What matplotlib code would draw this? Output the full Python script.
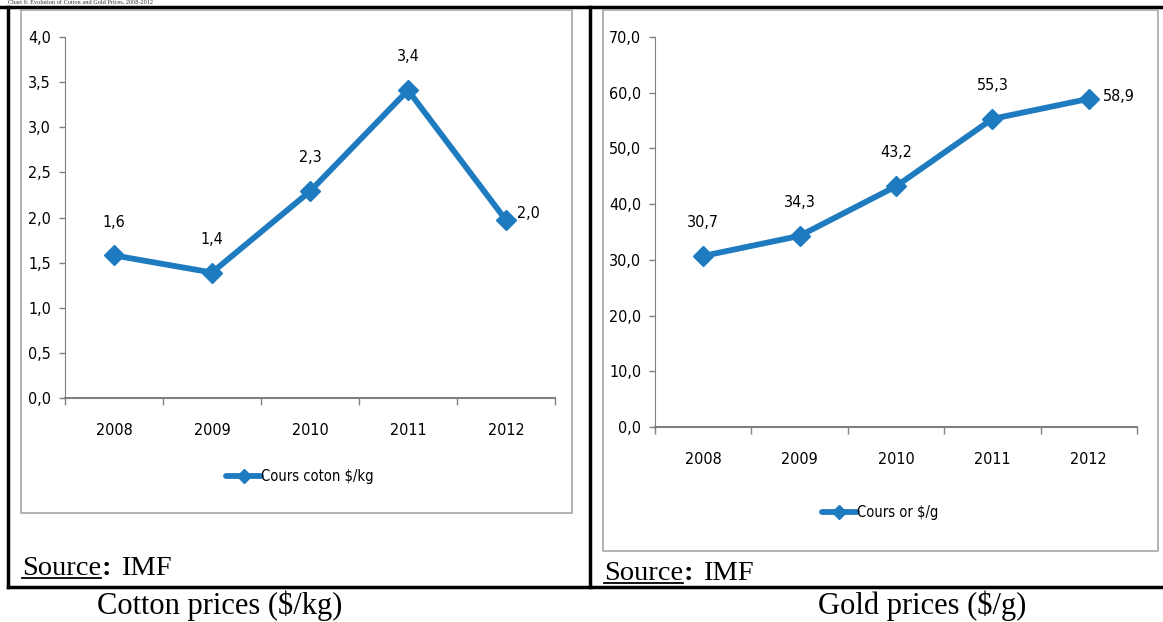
import numpy as np
import matplotlib.pyplot as plt
from matplotlib.lines import Line2D

years = ['2008', '2009', '2010', '2011', '2012']
cotton = [1.58, 1.39, 2.29, 3.41, 1.97]
gold = [30.7, 34.3, 43.2, 55.3, 58.9]
cotton_ticks = [0.0, 0.5, 1.0, 1.5, 2.0, 2.5, 3.0, 3.5, 4.0]
gold_ticks = [0, 10, 20, 30, 40, 50, 60, 70]

W, H = 1163, 622
blue = '#1F7BC0'
grey = '#A6A6A6'
narrow = ['DejaVu Sans']
serif = ['Liberation Serif', 'DejaVu Serif']

fig = plt.figure(figsize=(W/100, H/100), dpi=100)

def fx(p):
  return p/W

def fy(p):
  return 1-p/H

def box(x0, y0, x1, y1, **kw):
  # rectangle in pixel coords (top-left origin)
  xs = [fx(x0), fx(x1), fx(x1), fx(x0), fx(x0)]
  ys = [fy(y0), fy(y0), fy(y1), fy(y1), fy(y0)]
  fig.add_artist(Line2D(xs, ys, transform=fig.transFigure, **kw))

def hline(x0, x1, y, **kw):
  fig.add_artist(Line2D([fx(x0), fx(x1)], [fy(y), fy(y)], transform=fig.transFigure, **kw))

def vline(x, y0, y1, **kw):
  fig.add_artist(Line2D([fx(x), fx(x)], [fy(y0), fy(y1)], transform=fig.transFigure, **kw))

# table frame
hline(0, W, 7, color='black', lw=2.5)
hline(8, W, 587, color='black', lw=2.5)
vline(8, 7, 587, color='black', lw=2.5)
vline(590, 7, 587, color='black', lw=2.5)

# chart boxes
box(21, 10, 572, 513, color=grey, lw=1.2)
box(603, 10, 1158, 551, color=grey, lw=1.2)

# heading (mostly hidden above the table in the original)
fig.text(fx(8), fy(0), 'Chart 6: Evolution of Cotton and Gold Prices, 2008-2012',
         fontsize=4.5, family=serif, va='top', ha='left', color='#333333')

def make_panel(px0, py0, px1, py1, vals, ticks, ymax, fmt, offs, legend_label, leg_xy):
  ax = fig.add_axes([fx(px0), fy(py1), fx(px1)-fx(px0), fy(py0)-fy(py1)])
  x = np.arange(len(vals))
  ax.plot(x, vals, color=blue, lw=4.2, marker='D', ms=10, mec=blue, mfc=blue,
          solid_capstyle='round', label=legend_label)
  ax.set_xlim(-0.5, len(vals)-0.5)
  ax.set_ylim(0, ymax)
  ax.set_yticks(ticks)
  ax.yaxis.set_major_formatter(plt.FuncFormatter(lambda v, p: (fmt % v).replace('.', ',')))
  ax.set_xticks(np.arange(len(vals)+1)-0.5)
  ax.set_xticklabels([])
  ax.set_xticks(x, minor=True)
  ax.set_xticklabels(years, minor=True)
  ax.tick_params(axis='x', which='minor', length=0, pad=18)
  ax.tick_params(axis='x', which='major', length=5, color='#808080', width=1)
  ax.tick_params(axis='y', length=4, color='#808080', width=1, pad=6)
  for s in ['top', 'right']:
    ax.spines[s].set_visible(False)
  ax.spines['left'].set_color('#808080')
  ax.spines['bottom'].set_color('#808080')
  ax.spines['bottom'].set_linewidth(1.5)
  for lab in ax.get_xticklabels(minor=True) + ax.get_yticklabels():
    lab.set_fontfamily(narrow)
    lab.set_fontstretch('condensed')
    lab.set_fontsize(11.5)
  for i, v in enumerate(vals):
    dx, dy, ha = offs[i]
    ax.annotate(('%.1f' % v).replace('.', ','), (i, v), xytext=(dx, dy),
                textcoords='offset points', ha=ha, va='center',
                fontsize=11.5, family=narrow, fontstretch='condensed')
  leg = ax.legend(loc='center', bbox_to_anchor=(fx(leg_xy[0]), fy(leg_xy[1])),
                  bbox_transform=fig.transFigure, frameon=False,
                  handlelength=2.4, handletextpad=0.0,
                  prop={'family': narrow, 'size': 10.5, 'stretch': 'condensed'})
  leg.get_lines()[0].set_markersize(7)
  return ax

up = (0, 24, 'center')
make_panel(65, 37, 555, 398, cotton, cotton_ticks, 4.0, '%.1f',
           [up, up, up, up, (8, 5, 'left')], 'Cours coton \\$/kg', (300, 477))
make_panel(655, 37, 1137, 427, gold, gold_ticks, 70, '%.1f',
           [up, up, up, up, (10, 2, 'left')], 'Cours or \\$/g', (880, 513))

# source notes: underlined "Source", bold colon, then IMF
renderer = fig.canvas.get_renderer()
def source_note(x, y):
  t = fig.text(fx(x), fy(y), 'Source', fontsize=20.5, family=serif, va='baseline', ha='left')
  bb = t.get_window_extent(renderer)
  x1 = bb.x1
  hline(x, x1, y + 3, color='black', lw=1.3)
  c = fig.text(x1/W + fx(1), fy(y), ':', fontsize=20.5, family=serif, weight='bold', va='baseline', ha='left')
  bb2 = c.get_window_extent(renderer)
  fig.text(bb2.x1/W + fx(9), fy(y), 'IMF', fontsize=20.5, family=serif, va='baseline', ha='left')

source_note(22, 575)
source_note(604, 580)

fig.text(fx(220), fy(606), 'Cotton prices (\\$/kg)', fontsize=22, family=serif, va='center', ha='center')
fig.text(fx(922), fy(606), 'Gold prices (\\$/g)', fontsize=22, family=serif, va='center', ha='center')

plt.savefig('out.png', dpi=100)
